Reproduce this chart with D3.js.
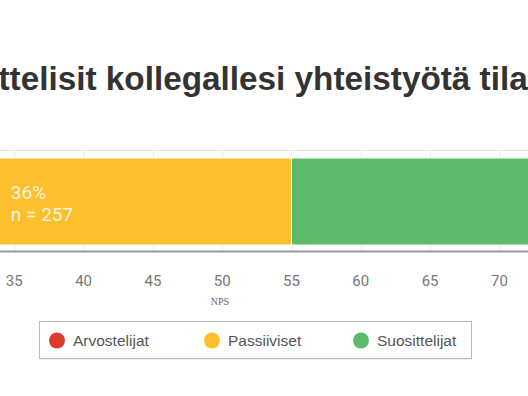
<!DOCTYPE html>
<html>
<head>
<meta charset="utf-8">
<script src="https://cdn.jsdelivr.net/npm/d3@7"></script>
<style>
  html, body { margin: 0; padding: 0; background: #fff; }
  svg { display: block; }
</style>
</head>
<body>
<script>
// data
var categories = ["Arvostelijat", "Passiiviset", "Suosittelijat"],
    percents = [19, 36, 45],
    counts = [136, 257, 321],
    colors = ["#dc3a2c", "#fcbf2d", "#5bbb6a"],
    ticks = [35, 40, 45, 50, 55, 60, 65, 70],
    titleText = "ttelisit kollegallesi yhteistyötä tila",
    axisTitle = "NPS";

var width = 528,
    height = 396,
    plotTop = 150,
    plotBottom = 251;

var segs = [], acc = 0;
percents.forEach(function(p, i) {
    segs.push({ name: categories[i], start: acc, end: acc + p, pct: p, n: counts[i], color: colors[i] });
    acc += p;
});

// chart is scrolled: 55 sits at x=291.5, 13.86px per unit
var x = d3.scaleLinear()
    .domain([0, 100])
    .range([291.5 - 55 * 13.86, 291.5 + 45 * 13.86]);

var svg = d3.select("body")
    .append("svg")
    .attr("width", width)
    .attr("height", height);

svg.append("defs").append("clipPath")
    .attr("id", "plotClip")
    .append("rect")
    .attr("x", 0).attr("y", plotTop - 2)
    .attr("width", width).attr("height", plotBottom - plotTop + 4);

// title
svg.append("text")
    .attr("x", -1.5)
    .attr("y", 89.5)
    .style("font-family", "'Liberation Sans', Arial, sans-serif")
    .style("font-weight", "bold")
    .style("font-size", "33.3px")
    .style("fill", "#333")
    .text(titleText);

var plot = svg.append("g").attr("clip-path", "url(#plotClip)");

// grid
plot.selectAll("line.grid")
    .data(ticks)
    .enter().append("line")
    .attr("class", "grid")
    .attr("x1", function(d) { return x(d) + 0.5; })
    .attr("x2", function(d) { return x(d) + 0.5; })
    .attr("y1", plotTop)
    .attr("y2", plotBottom)
    .style("stroke", "#e8e8e8")
    .style("stroke-width", 1);

plot.append("line")
    .attr("x1", 0).attr("x2", width)
    .attr("y1", plotTop + 0.5).attr("y2", plotTop + 0.5)
    .style("stroke", "#e4e4e4");

// bars
var barTop = 158, barH = 87;
plot.selectAll("rect.seg")
    .data(segs)
    .enter().append("rect")
    .attr("class", "seg")
    .attr("x", function(d) { return x(d.start); })
    .attr("width", function(d) { return x(d.end) - x(d.start); })
    .attr("y", barTop)
    .attr("height", barH)
    .style("fill", function(d) { return d.color; })
    .style("stroke", "#fff")
    .style("stroke-width", 1);

// segment labels, left aligned block centred on segment; hidden if outside view
var lab = svg.selectAll("g.lab")
    .data(segs)
    .enter().append("g")
    .attr("class", "lab");

lab.each(function(d) {
    var g = d3.select(this);
    var t = g.append("text")
        .style("font-family", "Roboto, 'Liberation Sans', sans-serif")
        .style("font-size", "19px")
        .style("fill", "#fff")
        .style("fill-opacity", 0.85);
    t.append("tspan").attr("x", 0).attr("y", 199).text(d.pct + "%");
    t.append("tspan").attr("x", 0).attr("y", 221).text("n = " + d.n);
    var w = t.node().getBBox().width;
    var left = x((d.start + d.end) / 2) - w / 2;
    if (left < 0 || left + w > width) { g.remove(); return; }
    g.attr("transform", "translate(" + left + ",0)");
});

// axis line
svg.append("line")
    .attr("x1", 0).attr("x2", width)
    .attr("y1", plotBottom + 0.5).attr("y2", plotBottom + 0.5)
    .style("stroke", "#999")
    .style("stroke-width", 2);

// tick labels
svg.selectAll("text.tick")
    .data(ticks)
    .enter().append("text")
    .attr("class", "tick")
    .attr("x", function(d) { return x(d); })
    .attr("y", 286)
    .attr("text-anchor", "middle")
    .style("font-family", "Roboto, 'Liberation Sans', sans-serif")
    .style("font-size", "15px")
    .style("fill", "#777")
    .text(function(d) { return d; });

svg.append("text")
    .attr("x", 220)
    .attr("y", 305)
    .attr("text-anchor", "middle")
    .style("font-family", "'Liberation Serif', 'DejaVu Serif', serif")
    .style("font-size", "10px")
    .style("fill", "#666")
    .text(axisTitle);

// legend
var legend = svg.append("g");
legend.append("rect")
    .attr("x", 40).attr("y", 322.5)
    .attr("width", 432).attr("height", 37)
    .style("fill", "#e4e4e4");
legend.append("rect")
    .attr("x", 39.5).attr("y", 321.5)
    .attr("width", 432).attr("height", 37)
    .style("fill", "#fff")
    .style("stroke", "#bbb")
    .style("stroke-width", 1);

var legendX = [57, 212, 361];
var li = legend.selectAll("g.item")
    .data(segs)
    .enter().append("g")
    .attr("class", "item")
    .attr("transform", function(d, i) { return "translate(" + legendX[i] + ",340.5)"; });

li.append("circle")
    .attr("r", 8)
    .style("fill", function(d) { return d.color; });

li.append("text")
    .attr("x", 16)
    .attr("y", 5.5)
    .style("font-family", "'Liberation Sans', Arial, sans-serif")
    .style("font-size", "15.5px")
    .style("fill", "#555")
    .text(function(d) { return d.name; });
</script>
</body>
</html>
